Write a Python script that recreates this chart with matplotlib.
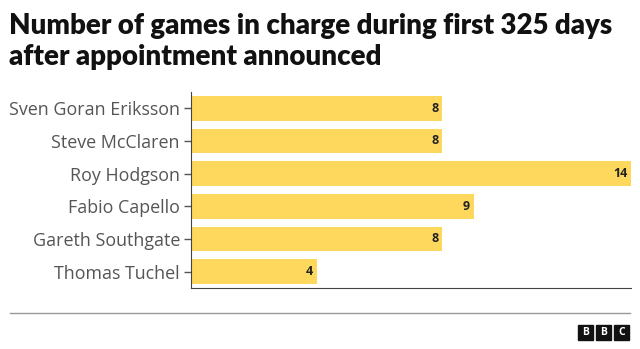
import matplotlib.pyplot as plt
from matplotlib.patches import Rectangle

managers = ["Sven Goran Eriksson", "Steve McClaren", "Roy Hodgson",
            "Fabio Capello", "Gareth Southgate", "Thomas Tuchel"]
games = [8, 8, 14, 9, 8, 4]

title = "Number of games in charge during first 325 days\nafter appointment announced"

plt.rcParams["font.family"] = ["Open Sans", "DejaVu Sans"]

fig = plt.figure(figsize=(6.4, 3.49), dpi=100)
ax = fig.add_axes([191 / 640, 1 - 288 / 349, 440 / 640, 196 / 349])

y = list(range(len(managers)))
ax.barh(y, games, height=0.75, color="#fdd85d")
for yi, g in zip(y, games):
    ax.text(g - 0.12, yi, str(g), ha="right", va="center",
            fontsize=9, fontweight="bold", color="#222222")

ax.set_xlim(0, 14)
ax.set_ylim(len(managers) - 0.5, -0.5)
ax.set_yticks(y)
ax.set_yticklabels(managers, fontsize=12.9, color="#555555")
ax.set_xticks([])
ax.tick_params(axis="y", length=5, width=1, color="#555555", pad=3)
for s in ["top", "right"]:
    ax.spines[s].set_visible(False)
ax.spines["left"].set_color("#444444")
ax.spines["bottom"].set_color("#444444")

fig.text(9 / 640, 1 - 13 / 349, title, ha="left", va="top", family=["Lato", "DejaVu Sans"],
         fontsize=19.9, fontweight="heavy", color="#111111", linespacing=1.25)

# footer line and logo
fig.add_artist(plt.Line2D([10 / 640, 630 / 640], [1 - 313 / 349, 1 - 313 / 349],
                          color="#999999", lw=1))
for i, ch in enumerate("BBC"):
    x0 = (578 + i * 18) / 640
    fig.add_artist(Rectangle((x0, 1 - 340 / 349), 15 / 640, 15 / 349,
                             color="#111111", transform=fig.transFigure))
    fig.text(x0 + 7.5 / 640, 1 - 332.5 / 349, ch, ha="center", va="center",
             color="white", fontsize=7.5, fontweight="bold")

fig.savefig("out.png", dpi=100, facecolor="white")
